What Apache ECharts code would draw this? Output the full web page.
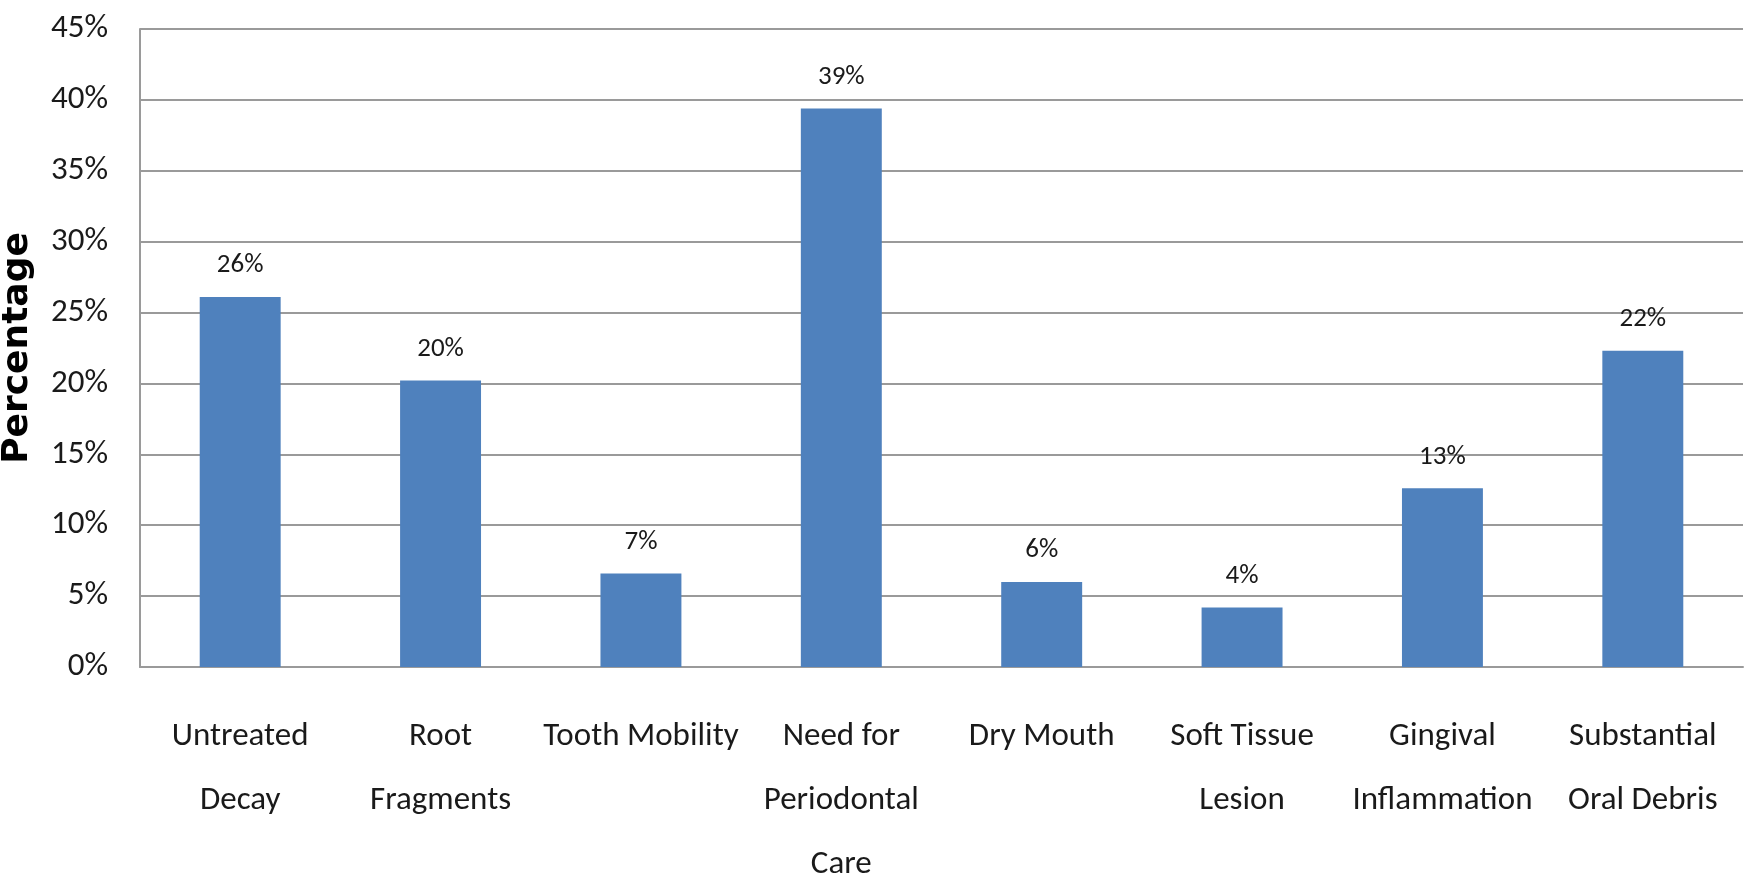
<!DOCTYPE html>
<html>
<head>
<meta charset="utf-8">
<style>
  html, body { margin: 0; padding: 0; background: #ffffff; }
  #chart { width: 1746px; height: 880px; }
</style>
<script src="https://cdn.jsdelivr.net/npm/echarts@6/dist/echarts.min.js"></script>
</head>
<body>
<div id="chart"></div>
<script>
// Oral health findings, share of residents (%)
const categories = [
  'Untreated\nDecay',
  'Root\nFragments',
  'Tooth Mobility',
  'Need for\nPeriodontal\nCare',
  'Dry Mouth',
  'Soft Tissue\nLesion',
  'Gingival\nInflammation',
  'Substantial\nOral Debris'
];
const percentages = [26.1, 20.2, 6.6, 39.4, 6.0, 4.2, 12.6, 22.3];
const yTicks = { min: 0, max: 45, step: 5 };
const yAxisTitle = 'Percentage';

const bodyFont = '"Carlito", "Lato", "Liberation Sans", sans-serif';
const lineGray = '#9a9a9a';

const chart = echarts.init(document.getElementById('chart'));
chart.setOption({
  animation: false,
  backgroundColor: '#ffffff',
  grid: {
    left: 140, right: 3, top: 29, bottom: 213,
    containLabel: false,
    outerBoundsMode: 'none'
  },
  xAxis: {
    type: 'category',
    data: categories,
    axisLine: { show: true, lineStyle: { color: lineGray, width: 2 } },
    axisTick: { show: false },
    axisLabel: {
      interval: 0,
      margin: 38,
      color: '#1a1a1a',
      fontFamily: bodyFont,
      fontSize: 33,
      lineHeight: 64
    }
  },
  yAxis: {
    type: 'value',
    min: yTicks.min,
    max: yTicks.max,
    interval: yTicks.step,
    name: yAxisTitle,
    nameLocation: 'middle',
    nameGap: 104,
    nameTextStyle: {
      fontFamily: '"DejaVu Sans", sans-serif',
      fontWeight: 'bold',
      fontSize: 36,
      color: '#000000'
    },
    axisLine: { show: true, lineStyle: { color: lineGray, width: 2 } },
    axisTick: { show: false },
    splitLine: { show: true, lineStyle: { color: lineGray, width: 2 } },
    axisLabel: {
      margin: 32,
      color: '#1a1a1a',
      fontFamily: bodyFont,
      fontSize: 33,
      formatter: '{value}%'
    }
  },
  series: [{
    type: 'bar',
    data: percentages,
    barWidth: '40.4%',
    itemStyle: { color: '#4f81bd' },
    label: {
      show: true,
      position: 'top',
      distance: 18,
      color: '#1a1a1a',
      fontFamily: bodyFont,
      fontSize: 27,
      formatter: p => Math.round(p.value) + '%'
    }
  }]
});
</script>
</body>
</html>
